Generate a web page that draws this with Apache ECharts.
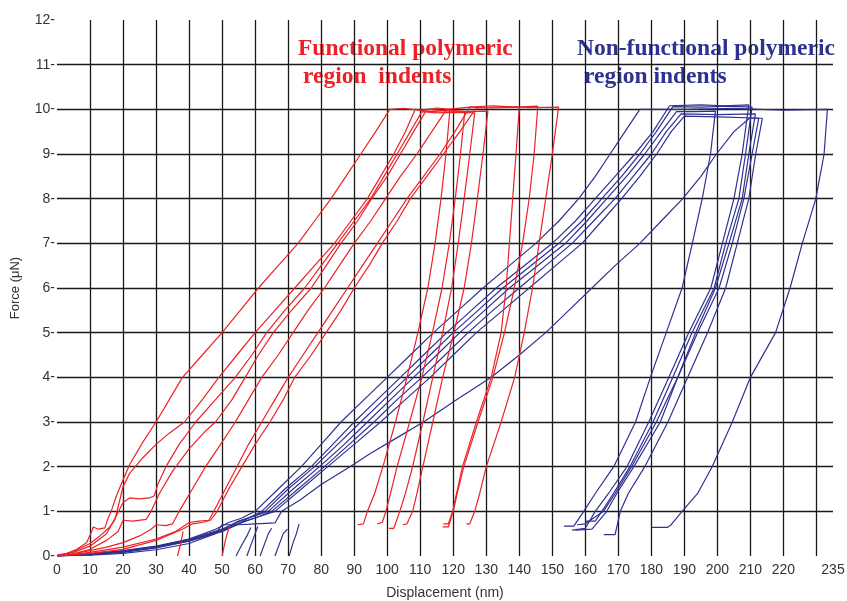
<!DOCTYPE html>
<html>
<head>
<meta charset="utf-8">
<script src="https://cdn.jsdelivr.net/npm/echarts@6/dist/echarts.min.js"></script>
<style>
html,body{margin:0;padding:0;background:#fff;}
#chart{width:847px;height:601px;}
</style>
</head>
<body>
<div id="chart"></div>
<script>
// ---- data: displacement (nm), force (uN) ----
var xTickLabels = [0,10,20,30,40,50,60,70,80,90,100,110,120,130,140,150,160,170,180,190,200,210,220,235];
var yTickLabels = [0,1,2,3,4,5,6,7,8,9,10,11,12];

var redIndent1 = [[0,0.02],[3,0.06],[6,0.15],[9,0.3],[10.5,0.55],[11,0.65],[12.5,0.6],[14.5,0.63],[15.5,0.85],[16.4,1.0],[18,1.35],[20,1.7],[22,2.05],[26,2.55],[30,3.0],[34,3.5],[38,4.0],[44,4.5],[50,5.0],[55.5,5.5],[61,6.0],[67,6.5],[73,7.0],[78,7.5],[83,8.0],[87.5,8.5],[92,9.0],[96.5,9.5],[100.8,10.0],[105,10.02],[110,9.98],[115,10.03],[119,10.0],[117.8,9],[116.3,8],[114.5,7],[112.3,6],[109.3,5],[106,4],[102.5,3],[98.7,2],[96.2,1.4],[94,1.0],[92.8,0.72],[91,0.7]];
var redIndent2 = [[0,0],[5,0.1],[10,0.28],[13,0.45],[16,0.65],[17.5,0.8],[18.5,1.1],[20,1.55],[22,1.85],[26,2.2],[30,2.5],[34,2.75],[38.6,3.0],[44,3.5],[49,4.0],[54.5,4.5],[60,5.0],[66,5.5],[72,6.0],[78,6.5],[84,7.0],[89,7.5],[94,8.0],[98,8.5],[102,9.0],[105.5,9.5],[108.5,10.0],[113,9.95],[118,9.97],[123.5,9.95],[122.2,9],[120.6,8],[118.8,7],[116.6,6],[113.7,5],[110.5,4],[106.8,3],[103,2],[101,1.4],[99.6,1.0],[98.5,0.75],[97,0.72]];
var redIndent3 = [[0,0],[5,0.08],[10,0.22],[15,0.5],[18,0.9],[20,1.2],[22,1.3],[25,1.28],[28,1.3],[29.5,1.35],[30.5,1.6],[33,2.0],[37,2.5],[42,3.0],[48,3.5],[54,4.0],[59,4.5],[63.5,5.0],[69,5.5],[75,6.0],[80,6.5],[85,7.0],[90,7.5],[95,8.0],[99,8.5],[103,9.0],[107,9.5],[110.5,9.95],[115,9.92],[120,9.93],[126.5,9.92],[125,9],[123.3,8],[121.5,7],[119.5,6],[116.8,5],[113.8,4],[110.8,3],[107.7,2],[105.5,1.4],[103.8,1.0],[102,0.62],[100.5,0.62]];
var redIndent4 = [[0,0],[5,0.05],[10,0.15],[15,0.35],[18.5,0.55],[20,0.8],[23,0.78],[27,0.82],[28.5,1.0],[31,1.4],[35,1.9],[40,2.4],[45,2.8],[48,3.0],[53,3.5],[57,4.0],[61,4.5],[65.5,5.0],[71,5.5],[77,6.0],[81.5,6.5],[86,7.0],[91,7.5],[95.3,8.0],[100,8.5],[104,9.0],[108,9.5],[112,10.0],[118,9.97],[124,9.95],[130.5,9.96],[129,9],[127.3,8],[125.5,7],[123.3,6],[120.2,5],[116.8,4],[113.8,3],[110.8,2],[109,1.4],[107.7,1.0],[106,0.72],[104.7,0.7]];
var redIndent5 = [[0,0],[5,0.05],[10,0.12],[15,0.2],[20,0.3],[25,0.45],[28.5,0.6],[30,0.7],[33,0.68],[35,0.72],[37,1.0],[41,1.5],[45,2.0],[50,2.55],[54,3.0],[58,3.5],[62,4.0],[67,4.5],[71.5,5.0],[76,5.5],[81,6.0],[85.5,6.5],[90,7.0],[95,7.5],[99.5,8.0],[104,8.5],[109,9.0],[113.5,9.5],[118,10.0],[125,10.05],[132,10.03],[140,10.05],[139,9],[138,8],[137,7],[136,6],[134.5,5],[131.5,4],[127,3],[122.8,2],[121,1.4],[119.8,1.0],[118.5,0.72],[117,0.72]];
var redIndent6 = [[0,0],[10,0.08],[20,0.2],[30,0.38],[36,0.55],[40,0.75],[43,0.78],[46,0.8],[47.5,1.0],[51,1.5],[54.5,2.0],[58,2.5],[62,3.0],[66,3.5],[70,4.0],[74.5,4.5],[79,5.0],[83.5,5.5],[88,6.0],[92.5,6.5],[97,7.0],[101.5,7.5],[106,8.0],[111,8.5],[116,9.0],[120.5,9.5],[125,10.05],[132,10.08],[139,10.05],[145.6,10.07],[144.5,9],[143,8],[141,7],[138.5,6],[135.5,5],[132,4],[127.5,3],[123.2,2],[121.2,1.4],[120,1.0],[118.5,0.65],[116.8,0.65]];
var redIndent7 = [[0,0],[10,0.06],[20,0.15],[30,0.35],[38,0.6],[41,0.72],[44,0.75],[46.5,0.8],[48.5,1.0],[52,1.5],[56,2.0],[60,2.5],[64.5,3.0],[68.5,3.5],[72,4.0],[77,4.5],[81.5,5.0],[86,5.5],[90,6.0],[94.5,6.5],[98.5,7.0],[103,7.5],[107,8.0],[112,8.5],[117,9.0],[122,9.5],[127,10.03],[135,10.06],[143,10.04],[151.9,10.05],[150,9],[148,8],[146,7],[144,6],[141.5,5],[138.6,4],[134.5,3],[130,2],[128,1.4],[126.5,1.0],[125,0.72],[124,0.72]];
var redTail1 = [[36.5,0],[37.5,0.3],[38.2,0.55]];
var redTail2 = [[50,0],[51,0.35],[52.3,0.7]];

var blueIndent1 = [[0,0],[10,0.04],[20,0.1],[30,0.2],[40,0.38],[48,0.6],[52,0.75],[56,0.85],[60,1.0],[67,1.5],[74,2.0],[80,2.5],[86,3.0],[93,3.5],[100,4.0],[107,4.5],[114,5.0],[121.5,5.5],[129,6.0],[137,6.5],[145,7.0],[152,7.5],[158,8.0],[163,8.5],[167.5,9.0],[172,9.5],[176.5,10.0],[190,10.0],[205,10.02],[220,9.98],[233.3,10.0],[232.3,9],[229.8,8],[225.7,7],[222,6],[217.6,5],[210,4],[204.5,3],[198.4,2],[194,1.4],[189.3,1.0],[186,0.7],[184.8,0.64],[180,0.64]];
var blueIndent2 = [[0,0],[10,0.03],[20,0.08],[30,0.18],[40,0.33],[50,0.55],[55,0.72],[58,0.85],[62,1.0],[69,1.5],[77,2.0],[83.5,2.5],[90,3.0],[97,3.5],[104,4.0],[111,4.5],[118,5.0],[125.5,5.5],[133,6.0],[141.5,6.5],[150,7.0],[157,7.5],[163,8.0],[169,8.5],[175,9.0],[180.5,9.5],[185.5,10.08],[195,10.1],[202,10.08],[209.5,10.1],[207.5,9],[205,8],[201.5,7],[198,6],[191.3,5],[185.3,4],[179.2,3],[172.6,2],[167,1.4],[163,1.0],[160,0.62],[156,0.58]];
var blueIndent3 = [[0,0],[10,0.05],[20,0.12],[30,0.22],[40,0.38],[50,0.6],[55,0.78],[59,0.88],[63,1.0],[70,1.5],[78,2.0],[85,2.5],[92,3.0],[99,3.5],[106,4.0],[113,4.5],[120,5.0],[127.5,5.5],[135,6.0],[143.5,6.5],[152,7.0],[159,7.5],[165,8.0],[171,8.5],[176.5,9.0],[181.5,9.5],[186.5,10.06],[195,10.05],[203,10.07],[210.5,10.05],[208.5,9],[206.5,8],[202.5,7],[199,6],[192.3,5],[186.5,4],[180.5,3],[173.5,2],[168.5,1.4],[165,1.0],[163,0.78],[160,0.78]];
var blueIndent4 = [[0,0],[10,0.03],[20,0.1],[30,0.2],[40,0.35],[50,0.58],[56,0.8],[60,0.9],[64,1.0],[71.5,1.5],[79.5,2.0],[87,2.5],[94,3.0],[101,3.5],[108,4.0],[115,4.5],[122,5.0],[129.5,5.5],[137,6.0],[145.5,6.5],[154,7.0],[160.5,7.5],[166.5,8.0],[172.5,8.5],[178,9.0],[183,9.5],[187.6,9.95],[193,9.95],[199.4,9.96],[197.9,9],[195.4,8],[192.4,7],[189.3,6],[184.5,5],[179.7,4],[175.2,3],[168.6,2],[163,1.4],[159.5,1.0],[156.5,0.67],[153.5,0.67]];
var blueIndent5 = [[0,0],[10,0.04],[20,0.1],[30,0.19],[40,0.34],[50,0.55],[56,0.75],[61,0.88],[65,1.0],[73,1.5],[81,2.0],[88.5,2.5],[96,3.0],[103,3.5],[110.5,4.0],[117.5,4.5],[124.5,5.0],[132,5.5],[140,6.0],[148,6.5],[156,7.0],[162.5,7.5],[169,8.0],[174.5,8.5],[180,9.0],[184.5,9.5],[189,9.9],[200,9.88],[211.5,9.9],[209.5,9],[207.5,8],[203.5,7],[199.4,6],[193.4,5],[188,4],[182.7,3],[174.7,2],[169.5,1.4],[166.5,1.0],[162,0.6],[157,0.58]];
var blueIndent6 = [[0,0],[10,0.05],[20,0.11],[30,0.21],[40,0.36],[50,0.57],[57,0.78],[62,0.9],[66,1.0],[74,1.5],[82,2.0],[90,2.5],[98,3.0],[105.5,3.5],[113,4.0],[120,4.5],[127,5.0],[135,5.5],[143,6.0],[151,6.5],[159,7.0],[165,7.5],[171,8.0],[176.5,8.5],[181.6,9.0],[186,9.5],[190,9.85],[200,9.83],[213.6,9.8],[211.6,9],[209.5,8],[206,7],[202.5,6],[197,5],[191,4],[185,3],[178,2],[173,1.4],[170.6,1.0],[169,0.48],[165.6,0.48]];
var blueIndent7 = [[0,0],[10,0.02],[20,0.06],[30,0.14],[40,0.28],[48,0.5],[50,0.7],[55,0.7],[60,0.72],[66,0.74],[68,1.0],[73.5,1.25],[80,1.6],[88.7,2.0],[95,2.3],[103,2.65],[111,3.0],[121,3.5],[131.5,4.0],[140,4.5],[148,5.0],[155,5.5],[162,6.0],[169,6.5],[176.5,7.0],[183,7.5],[189.5,8.0],[195,8.5],[199.7,9.0],[205,9.5],[209.7,9.8],[212.5,9.8],[210.5,9],[208,8],[204.5,7],[200.5,6],[194,5],[188,4],[181.5,3],[174,2],[169,1.4],[165.5,1.0],[160,0.72],[157.5,0.7]];
var blueTail1 = [[54.2,0],[56,0.25],[57.5,0.45],[58.7,0.64]];
var blueTail2 = [[57.5,0],[59,0.3],[60,0.5],[60.8,0.66]];
var blueTail3 = [[61.5,0],[63,0.3],[64,0.5],[65,0.62]];
var blueTail4 = [[66,0],[67.5,0.3],[68.5,0.5],[69.8,0.6]];
var blueTail5 = [[70.3,0],[71.5,0.3],[72.5,0.5],[73.3,0.72]];

var RED = '#ec2227';
var BLUE = '#2e3192';

var redSets = [redIndent1, redIndent2, redIndent3, redIndent4, redIndent5, redIndent6, redIndent7, redTail1, redTail2];
var blueSets = [blueIndent1, blueIndent2, blueIndent3, blueIndent4, blueIndent5, blueIndent6, blueIndent7, blueTail1, blueTail2, blueTail3, blueTail4, blueTail5];

var series = [];
blueSets.forEach(function (d) {
  series.push({type:'line', data:d, showSymbol:false, symbol:'none', silent:true, lineStyle:{color:BLUE, width:1.2}, z:3});
});
redSets.forEach(function (d) {
  series.push({type:'line', data:d, showSymbol:false, symbol:'none', silent:true, lineStyle:{color:RED, width:1.2}, z:4});
});

var chart = echarts.init(document.getElementById('chart'), null, {renderer:'canvas'});
chart.setOption({
  animation:false,
  backgroundColor:'#ffffff',
  grid:{left:57, right:14, top:20, bottom:45, containLabel:false, outerBoundsMode:'none'},
  xAxis:{
    type:'value', min:0, max:235, interval:10,
    name:'Displacement (nm)', nameLocation:'middle', nameGap:30,
    nameTextStyle:{fontFamily:'Liberation Sans, Arial', fontSize:14, color:'#333'},
    axisLine:{show:false}, axisTick:{show:false},
    axisLabel:{fontFamily:'Liberation Sans, Arial', fontSize:14, color:'#333', margin:7,
      formatter:function(v){ return xTickLabels.indexOf(v) >= 0 ? String(v) : ''; }},
    splitLine:{show:true, showMinLine:false, showMaxLine:false, lineStyle:{color:'#1a1a1a', width:1.3}}
  },
  yAxis:{
    type:'value', min:0, max:12, interval:1,
    name:'Force (\u03bcN)', nameLocation:'middle', nameGap:35, nameRotate:90,
    nameTextStyle:{fontFamily:'Liberation Sans, Arial', fontSize:13, color:'#333'},
    axisLine:{show:false}, axisTick:{show:false},
    axisLabel:{fontFamily:'Liberation Sans, Arial', fontSize:14, color:'#333', margin:2,
      formatter:function(v){ return yTickLabels.indexOf(v) >= 0 ? v + '-' : ''; }},
    splitLine:{show:true, showMinLine:false, showMaxLine:false, lineStyle:{color:'#1a1a1a', width:1.3}}
  },
  graphic:[
    {type:'text', left:298, top:37, silent:true, style:{text:'Functional polymeric', fill:RED, font:'bold 23.5px "Liberation Serif", "Times New Roman", serif'}},
    {type:'text', left:303, top:65, silent:true, style:{text:'region  indents', fill:RED, font:'bold 23.5px "Liberation Serif", "Times New Roman", serif'}},
    {type:'text', left:577, top:37, silent:true, style:{text:'Non-functional polymeric', fill:BLUE, font:'bold 23.5px "Liberation Serif", "Times New Roman", serif'}},
    {type:'text', left:584, top:65, silent:true, style:{text:'region indents', fill:BLUE, font:'bold 23.5px "Liberation Serif", "Times New Roman", serif'}}
  ],
  series:series
});
</script>
</body>
</html>
